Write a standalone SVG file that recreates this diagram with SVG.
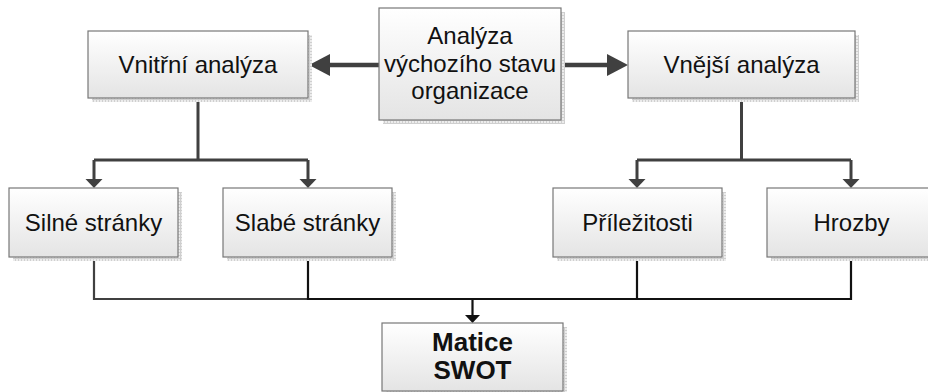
<svg xmlns="http://www.w3.org/2000/svg" width="928" height="392" viewBox="0 0 928 392">
  <defs>
    <linearGradient id="boxFill" x1="0" y1="0" x2="0" y2="1">
      <stop offset="0" stop-color="#ffffff"/>
      <stop offset="1" stop-color="#e4e4e4"/>
    </linearGradient>
    <pattern id="shadowGrid" width="3" height="3" patternUnits="userSpaceOnUse">
      <rect width="3" height="3" fill="#ececec"/>
      <path d="M0,0.5 H3 M0.5,0 V3" stroke="#cfcfcf" stroke-width="1"/>
    </pattern>
  </defs>
  <style>
    .shadow { fill: url(#shadowGrid); }
    .box { fill: url(#boxFill); stroke: #777777; stroke-width: 1.2; }
    .label { font-family: "Liberation Sans", Arial, sans-serif; font-size: 24px; fill: #111111; text-anchor: middle; }
    .bold { font-weight: bold; font-size: 26px; }
    .wire { fill: none; stroke: #404040; stroke-width: 3; }
    .thick { fill: none; stroke: #404040; stroke-width: 4.5; }
    .thin { fill: none; stroke: #111111; stroke-width: 2.2; }
    .thinGrey { fill: none; stroke: #404040; stroke-width: 2.2; }
    .head { fill: #404040; }
    .headDark { fill: #111111; }
  </style>

  <rect width="928" height="392" fill="#ffffff"/>

  <!-- connectors -->
  <g id="connectors">
    <!-- start node to the two analyses -->
    <line class="thick" x1="379" y1="65" x2="328" y2="65"/>
    <polygon class="head" points="309,65 330,54 330,76"/>
    <line class="thick" x1="561" y1="65" x2="609" y2="65"/>
    <polygon class="head" points="628,65 607,54 607,76"/>

    <!-- internal analysis branches -->
    <path class="wire" d="M198,98 V160 M94,160 H308 M94,160 V180 M308,160 V180"/>
    <polygon class="head" points="85.5,179 102.5,179 94,188"/>
    <polygon class="head" points="299.5,179 316.5,179 308,188"/>

    <!-- external analysis branches -->
    <path class="wire" d="M741.5,98 V160 M637,160 H851 M637,160 V180 M851,160 V180"/>
    <polygon class="head" points="628.5,179 645.5,179 637,188"/>
    <polygon class="head" points="842.5,179 859.5,179 851,188"/>

    <!-- merge into the SWOT matrix -->
    <path class="thinGrey" d="M94,257 V299 H308"/>
    <path class="thin" d="M308,257 V299 H851 V257 M637,257 V299 M472.5,299 V316"/>
    <polygon class="headDark" points="465,315 480,315 472.5,323"/>
  </g>

  <!-- nodes -->
  <g id="node-start">
    <rect class="shadow" x="383" y="12" width="182" height="112"/>
    <rect class="box" x="379" y="8" width="182" height="112"/>
    <text class="label" x="470" y="44">Analýza</text>
    <text class="label" x="470" y="72">výchozího stavu</text>
    <text class="label" x="470" y="99">organizace</text>
  </g>

  <g id="node-internal">
    <rect class="shadow" x="92" y="35" width="220" height="67"/>
    <rect class="box" x="88" y="31" width="220" height="67"/>
    <text class="label" x="198" y="73">Vnitřní analýza</text>
  </g>

  <g id="node-external">
    <rect class="shadow" x="632" y="35" width="227" height="67"/>
    <rect class="box" x="628" y="31" width="227" height="67"/>
    <text class="label" x="741.5" y="73">Vnější analýza</text>
  </g>

  <g id="node-strengths">
    <rect class="shadow" x="13" y="192" width="169" height="69"/>
    <rect class="box" x="9" y="188" width="169" height="69"/>
    <text class="label" x="93.5" y="231">Silné stránky</text>
  </g>

  <g id="node-weaknesses">
    <rect class="shadow" x="227" y="192" width="169" height="69"/>
    <rect class="box" x="223" y="188" width="169" height="69"/>
    <text class="label" x="307.5" y="231">Slabé stránky</text>
  </g>

  <g id="node-opportunities">
    <rect class="shadow" x="557" y="192" width="169" height="69"/>
    <rect class="box" x="553" y="188" width="169" height="69"/>
    <text class="label" x="637.5" y="231">Příležitosti</text>
  </g>

  <g id="node-threats">
    <rect class="shadow" x="771" y="192" width="169" height="69"/>
    <rect class="box" x="767" y="188" width="169" height="69"/>
    <text class="label" x="851.5" y="231">Hrozby</text>
  </g>

  <g id="node-swot">
    <rect class="shadow" x="386" y="327" width="181" height="68"/>
    <rect class="box" x="382" y="323" width="181" height="68"/>
    <text class="label bold" x="472.5" y="351">Matice</text>
    <text class="label bold" x="472.5" y="379">SWOT</text>
  </g>
</svg>
